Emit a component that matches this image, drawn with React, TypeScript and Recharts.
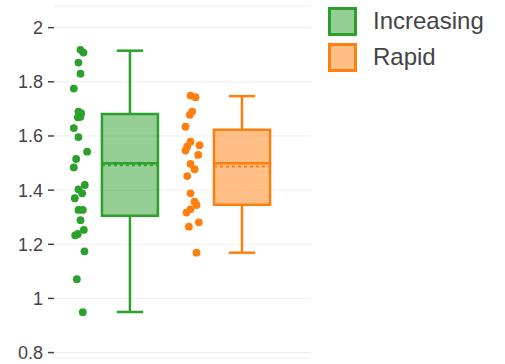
import React from "react";
import {
  ComposedChart,
  Scatter,
  XAxis,
  YAxis,
  CartesianGrid,
  ReferenceArea,
  ReferenceLine,
  Legend,
} from "recharts";

// Group names
const groups = ["Increasing", "Rapid"];

// Raw observations per group
const increasingValues = [
  1.918, 1.908, 1.871, 1.83, 1.775, 1.69, 1.684, 1.671, 1.669, 1.629, 1.596,
  1.542, 1.515, 1.484, 1.419, 1.403, 1.388, 1.37, 1.327, 1.327, 1.289, 1.253,
  1.238, 1.233, 1.174, 1.071, 0.949,
];
const rapidValues = [
  1.749, 1.743, 1.69, 1.678, 1.634, 1.579, 1.566, 1.561, 1.546, 1.53, 1.497,
  1.477, 1.452, 1.388, 1.357, 1.345, 1.329, 1.317, 1.281, 1.265, 1.169,
];

// Horizontal jitter of each point, -1..1
const increasingJitter = [
  0, 0.43, -0.29, 0, -0.95, -0.29, 0.1, 0, -0.38, -0.95, -0.29, 0.95, -0.62,
  -0.95, 0.62, -0.29, 0.24, -0.81, -0.29, 0.33, 0, 0.48, -0.38, -0.76, 0.57,
  -0.52, 0.33,
];
const rapidJitter = [
  -0.29, 0.43, -0.05, -0.38, -1, -0.29, 1, -0.76, -1, 0.81, -0.29, 0.29, -0.76,
  -0.29, 0.29, 0.57, -0.29, -0.86, 0.9, -0.52, 0.57,
];

// Box statistics per group
const lowerFence = [0.95, 1.169];
const q1 = [1.305, 1.346];
const median = [1.499, 1.499];
const mean = [1.492, 1.487];
const q3 = [1.681, 1.623];
const upperFence = [1.915, 1.747];

const yTicks = [0.8, 1, 1.2, 1.4, 1.6, 1.8, 2];

const COLORS = ["#2ca02c", "#ff7f0e"];
const FILLS = ["rgba(44,160,44,0.5)", "rgba(255,127,14,0.5)"];
const FONT = "'Liberation Sans', Arial, sans-serif";

const BOX_CENTER = [0.091, 0.963];
const BOX_HALF = 0.218;
const CAP_HALF = 0.103;
const POINT_OFFSET = -0.385;
const JITTER_SPREAD = 0.0545;

const valuesByGroup = [increasingValues, rapidValues];
const jitterByGroup = [increasingJitter, rapidJitter];

const pointData = groups.map((_, g) =>
  valuesByGroup[g].map((y, i) => ({
    x: BOX_CENTER[g] + POINT_OFFSET + jitterByGroup[g][i] * JITTER_SPREAD,
    y,
  })),
);

const fmtTick = (v: number) => String(Number(v.toFixed(1)));

const dot = (color: string) => (props: any) => (
  <circle cx={props.cx} cy={props.cy} r={3.9} fill={color} />
);

const LegendBox = () => (
  <div style={{ fontFamily: FONT, color: "#444" }}>
    {groups.map((name, g) => (
      <div
        key={name}
        style={{ display: "flex", alignItems: "center", height: 36 }}
      >
        <div
          style={{
            width: 23,
            height: 23,
            border: `3px solid ${COLORS[g]}`,
            background: FILLS[g],
            marginRight: 16,
          }}
        />
        <span style={{ fontSize: 24 }}>{name}</span>
      </div>
    ))}
  </div>
);

export default function App() {
  return (
    <div style={{ position: "absolute", left: 0, top: 0, background: "#fff" }}>
      <ComposedChart
        width={505}
        height={364}
        margin={{ top: 6, right: 17, bottom: 6, left: 0 }}
      >
        <CartesianGrid horizontal vertical={false} stroke="#eee" />
        <XAxis
          type="number"
          dataKey="x"
          domain={[-0.5, 1.5]}
          hide
          allowDataOverflow
        />
        <YAxis
          type="number"
          dataKey="y"
          domain={[0.78, 2.08]}
          ticks={yTicks}
          allowDataOverflow
          width={54}
          axisLine={false}
          tickSize={6}
          tickMargin={5}
          tickLine={{ stroke: "#444", strokeWidth: 1.5 }}
          tickFormatter={fmtTick}
          tick={{ fill: "#444", fontSize: 18, fontFamily: FONT }}
        />
        {groups.map((name, g) => (
          <ReferenceArea
            key={`box-${name}`}
            x1={BOX_CENTER[g] - BOX_HALF}
            x2={BOX_CENTER[g] + BOX_HALF}
            y1={q1[g]}
            y2={q3[g]}
            fill={FILLS[g]}
            fillOpacity={1}
            stroke={COLORS[g]}
            strokeWidth={2.5}
          />
        ))}
        {groups.map((name, g) => [
          <ReferenceLine
            key={`wl-${name}`}
            segment={[
              { x: BOX_CENTER[g], y: lowerFence[g] },
              { x: BOX_CENTER[g], y: q1[g] },
            ]}
            stroke={COLORS[g]}
            strokeWidth={2.5}
          />,
          <ReferenceLine
            key={`wu-${name}`}
            segment={[
              { x: BOX_CENTER[g], y: q3[g] },
              { x: BOX_CENTER[g], y: upperFence[g] },
            ]}
            stroke={COLORS[g]}
            strokeWidth={2.5}
          />,
          <ReferenceLine
            key={`cl-${name}`}
            segment={[
              { x: BOX_CENTER[g] - CAP_HALF, y: lowerFence[g] },
              { x: BOX_CENTER[g] + CAP_HALF, y: lowerFence[g] },
            ]}
            stroke={COLORS[g]}
            strokeWidth={2.5}
          />,
          <ReferenceLine
            key={`cu-${name}`}
            segment={[
              { x: BOX_CENTER[g] - CAP_HALF, y: upperFence[g] },
              { x: BOX_CENTER[g] + CAP_HALF, y: upperFence[g] },
            ]}
            stroke={COLORS[g]}
            strokeWidth={2.5}
          />,
          <ReferenceLine
            key={`mean-${name}`}
            segment={[
              { x: BOX_CENTER[g] - BOX_HALF, y: mean[g] },
              { x: BOX_CENTER[g] + BOX_HALF, y: mean[g] },
            ]}
            stroke={COLORS[g]}
            strokeWidth={2}
            strokeDasharray="3 3"
          />,
          <ReferenceLine
            key={`med-${name}`}
            segment={[
              { x: BOX_CENTER[g] - BOX_HALF, y: median[g] },
              { x: BOX_CENTER[g] + BOX_HALF, y: median[g] },
            ]}
            stroke={COLORS[g]}
            strokeWidth={2.5}
          />,
        ])}
        {groups.map((name, g) => (
          <Scatter
            key={name}
            name={name}
            data={pointData[g]}
            fill={COLORS[g]}
            shape={dot(COLORS[g])}
            isAnimationActive={false}
          />
        ))}
        <Legend
          layout="vertical"
          verticalAlign="top"
          align="right"
          content={() => <LegendBox />}
          wrapperStyle={{ top: 3, left: 328, width: 177 }}
        />
      </ComposedChart>
    </div>
  );
}
